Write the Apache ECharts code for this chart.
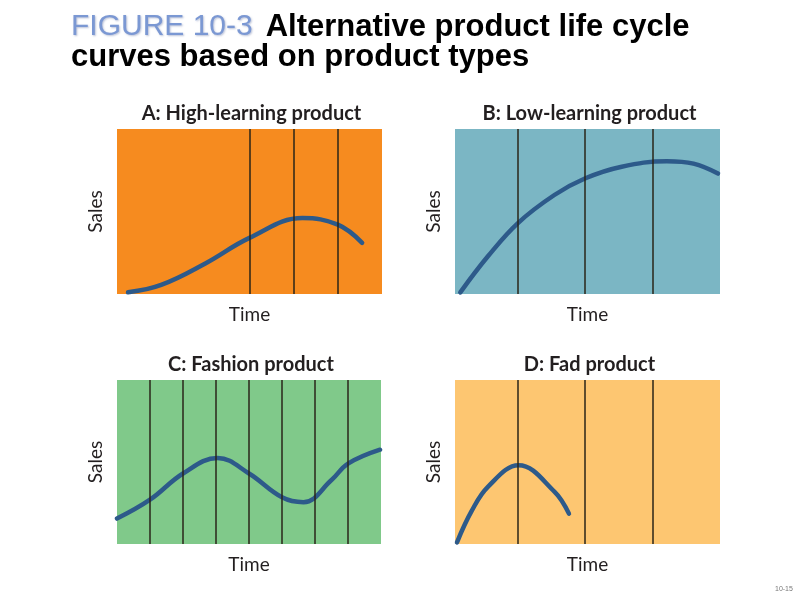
<!DOCTYPE html>
<html>
<head>
<meta charset="utf-8">
<title>Alternative product life cycle curves</title>
<script src="https://cdn.jsdelivr.net/npm/echarts@6/dist/echarts.min.js"></script>
<style>
	html, body { margin: 0; padding: 0; background: #fff; }
	#chart { width: 800px; height: 600px; }
</style>
</head>
<body>
<div id="chart"></div>
<script>
// panel titles
const panelTitles = [
	"A: High-learning product",
	"B: Low-learning product",
	"C: Fashion product",
	"D: Fad product",
];

// stage boundaries (time units) per panel
const stagesA = [3, 4, 5];
const stagesB = [0.95, 1.96, 2.98];
const stagesC = [1, 2, 3, 4, 5, 6, 7];
const stagesD = [0.95, 1.96, 2.98];

// time span of each panel
const timeMax = [6, 4, 8, 4];

// A: high-learning product
const timeA = [0.25, 1, 2, 3, 4.2, 5, 5.55];
const salesA = [1, 5.5, 18.5, 34, 46, 42, 31];

// B: low-learning product
const timeB = [0.08, 0.5, 0.95, 1.5, 1.96, 2.5, 3.2, 3.6, 3.97];
const salesB = [1, 23, 43, 60, 70, 77, 80.5, 79, 73];

// C: fashion product
const timeC = [0, 1, 2, 3.05, 4, 5, 5.65, 6.5, 7, 7.97];
const salesC = [15.5, 27, 43, 52.5, 43, 28.5, 25.5, 39, 49, 57.5];

// D: fad product
const timeD = [0.03, 0.25, 0.5, 0.96, 1.5, 1.72];
const salesD = [1, 20, 35, 48, 32, 18.5];

const panelColors = ["#f68b1f", "#7bb6c4", "#80c98a", "#fdc671"];
const curveColor = "#2d5a8a";

function zip(xs, ys) {
	return xs.map((x, i) => [x, ys[i]]);
}

let chartElem = document.getElementById("chart");
let chart = echarts.init(chartElem, null, { renderer: "canvas" });

let grids = [
	{ left: 117, top: 129, width: 265, height: 165 },
	{ left: 455, top: 129, width: 265, height: 165 },
	{ left: 117, top: 380, width: 264, height: 164 },
	{ left: 455, top: 380, width: 265, height: 164 },
];
let curves = [zip(timeA, salesA), zip(timeB, salesB), zip(timeC, salesC), zip(timeD, salesD)];
let stages = [stagesA, stagesB, stagesC, stagesD];

let axisFont = {
	fontFamily: "Lato",
	fontSize: 19,
	color: "#231f20",
};

chart.setOption({
	animation: false,
	title: [
		{
			text: "{fig|FIGURE 10-3}  {bold|Alternative product life cycle}\n{bold|curves based on product types}",
			left: 66,
			top: 7,
			textStyle: {
				rich: {
					fig: {
						fontFamily: "Liberation Sans",
						fontSize: 30,
						fontWeight: "normal",
						color: "#7b98d3",
						lineHeight: 30,
						padding: [0, 3, 0, 0],
						textShadowColor: "rgba(60,80,140,0.35)",
						textShadowBlur: 2,
						textShadowOffsetX: 1,
						textShadowOffsetY: 1,
					},
					bold: {
						fontFamily: "Liberation Sans",
						fontSize: 31,
						fontWeight: "bold",
						color: "#000",
						lineHeight: 30,
					},
				},
			},
		},
	].concat(
		panelTitles.map((t, i) => ({
			text: t,
			left: grids[i].left + grids[i].width / 2 - 3,
			top: grids[i].top - 30,
			textAlign: "center",
			textStyle: {
				fontFamily: "Lato",
				fontSize: 20,
				fontWeight: "bold",
				color: "#231f20",
			},
		}))
	).concat([
		{
			text: "10-15",
			left: 770,
			top: 581,
			textStyle: { fontFamily: "Liberation Sans", fontSize: 7, fontWeight: "normal", color: "#777" },
		},
	]),
	grid: grids.map((g, i) => ({
		left: g.left,
		top: g.top,
		width: g.width,
		height: g.height,
		show: true,
		backgroundColor: panelColors[i],
		borderWidth: 0,
	})),
	xAxis: grids.map((g, i) => ({
		type: "value",
		gridIndex: i,
		min: 0,
		max: timeMax[i],
		name: "Time",
		nameLocation: "middle",
		nameGap: 11,
		nameTextStyle: Object.assign({ verticalAlign: "top" }, axisFont),
		axisLine: { show: false },
		axisTick: { show: false },
		axisLabel: { show: false },
		splitLine: { show: false },
	})),
	yAxis: grids.map((g, i) => ({
		type: "value",
		gridIndex: i,
		min: 0,
		max: 100,
		name: "Sales",
		nameLocation: "middle",
		nameGap: 12,
		nameRotate: 90,
		nameTextStyle: axisFont,
		axisLine: { show: false },
		axisTick: { show: false },
		axisLabel: { show: false },
		splitLine: { show: false },
	})),
	series: curves.map((c, i) => ({
		type: "line",
		xAxisIndex: i,
		yAxisIndex: i,
		data: c,
		smooth: 0.4,
		showSymbol: false,
		silent: true,
		z: 3,
		lineStyle: { color: curveColor, width: 4.5, cap: "round" },
		markLine: {
			silent: true,
			symbol: "none",
			label: { show: false },
			lineStyle: { color: "#2a2418", width: 1.5, type: "solid" },
			data: stages[i].map((s) => ({ xAxis: s })),
		},
	})),
});
</script>
</body>
</html>
